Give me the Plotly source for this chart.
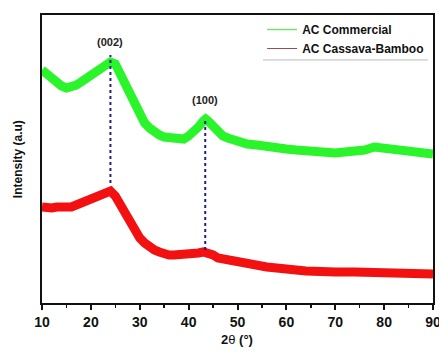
import plotly.graph_objects as go

# 2-theta positions (degrees)
two_theta_green = [10, 11, 12, 13, 14, 15, 16, 17, 18, 19, 20, 21, 22, 23, 24, 25, 26, 27, 28, 29,
                   30, 31, 32, 33, 34, 35, 36, 37, 38, 39, 40, 41, 42, 43, 43.5, 44, 45, 46, 47, 48,
                   49, 50, 52, 54, 56, 58, 60, 62, 64, 66, 68, 70, 72, 74, 76, 78, 80, 82, 84, 86,
                   88, 90]
intensity_green = [233, 229, 224, 220, 217, 215, 216, 218, 221, 224, 228, 231, 235, 238, 241, 239, 229, 216, 205, 196,
                   186, 180, 175, 171, 168, 166, 165, 164, 163, 164, 167, 171, 176, 182, 184, 182, 176, 170, 167, 165,
                   163, 161, 159, 158, 156, 155, 154, 153, 152, 151, 151, 150, 151, 151, 153, 156, 155, 152, 151, 150,
                   150, 149]

two_theta_red = [10, 11, 12, 13, 14, 15, 16, 17, 18, 19, 20, 21, 22, 23, 24, 25, 26, 27, 28, 29,
                 30, 31, 32, 33, 34, 35, 36, 37, 38, 39, 40, 41, 42, 43, 44, 45, 46, 48, 50, 52,
                 54, 56, 58, 60, 62, 64, 66, 70, 74, 78, 82, 86, 90]
intensity_red = [96, 95, 95, 96, 96, 95, 96, 98, 100, 103, 106, 108, 110, 112, 112, 107, 98, 89, 80, 72,
                 65, 60, 56, 53, 51, 49, 48, 48, 48, 48, 48, 49, 50, 51, 50, 48, 45, 43, 40, 39,
                 38, 36, 35, 33, 33, 32, 31, 31, 31, 31, 31, 30, 29]

series_names = ["AC Commercial", "AC Cassava-Bamboo"]

# Peak markers (Miller indices)
peak_pos = [24.0, 43.4]
peak_top = [248, 185]
peak_bottom = [120, 53]
peak_labels = ["(002)", "(100)"]
label_y = [261, 203]

x_ticks = [10, 20, 30, 40, 50, 60, 70, 80, 90]

FONT = "Liberation Sans, Arial, sans-serif"

fig = go.Figure()

fig.add_trace(go.Scatter(x=two_theta_green, y=intensity_green, mode="lines",
                         line=dict(color="#2af52a", width=9), showlegend=False))
fig.add_trace(go.Scatter(x=two_theta_red, y=intensity_red, mode="lines",
                         line=dict(color="#f21010", width=9), showlegend=False))

for p, t, b in zip(peak_pos, peak_top, peak_bottom):
    fig.add_trace(go.Scatter(x=[p, p], y=[b, t], mode="lines",
                             line=dict(color="#20208a", width=2, dash="dot"), showlegend=False))

# legend-only entries
fig.add_trace(go.Scatter(x=[None], y=[None], mode="lines", name=series_names[0],
                         line=dict(color="#77dd77", width=1.5)))
fig.add_trace(go.Scatter(x=[None], y=[None], mode="lines", name=series_names[1],
                         line=dict(color="#9a4b4b", width=1.2)))

for p, ly, lab in zip(peak_pos, label_y, peak_labels):
    fig.add_annotation(x=p, y=ly, text="<b>%s</b>" % lab, showarrow=False,
                       font=dict(family=FONT, size=11, color="#222222"))

fig.add_shape(type="line", xref="paper", yref="paper", x0=0.565, x1=0.987, y0=0.844, y1=0.844,
              line=dict(color="#bbbbbb", width=1))

# axis titles
fig.add_annotation(xref="paper", yref="paper", x=0.499, y=-0.128, xanchor="center", yanchor="middle",
                   text="<b>2</b>θ<b> (°)</b>", showarrow=False,
                   font=dict(family=FONT, size=13, color="#111111"))
fig.add_annotation(xref="paper", yref="paper", x=-0.061, y=0.5, xanchor="center", yanchor="middle",
                   text="<b>Intensity (a.u)</b>", textangle=-90, showarrow=False,
                   font=dict(family=FONT, size=12, color="#111111"))

fig.update_layout(
    width=439, height=352,
    margin=dict(l=42, r=6, t=15, b=49, autoexpand=False),
    paper_bgcolor="white", plot_bgcolor="white",
    font=dict(family=FONT, color="#111111"),
    hovermode=False,
    legend=dict(x=0.563, y=1.0, xanchor="left", yanchor="top",
                bgcolor="rgba(0,0,0,0)", borderwidth=0,
                font=dict(family=FONT, size=12, weight="bold", color="#111111"),
                tracegroupgap=0, itemwidth=30),
    xaxis=dict(range=[10, 90], tickvals=x_ticks, ticks="outside", ticklen=5, tickwidth=2,
               tickcolor="#111111", showline=True, linewidth=2, linecolor="#111111", mirror=True,
               showgrid=False, zeroline=False, automargin=False, ticklabeloverflow="allow",
               tickfont=dict(family=FONT, size=14, weight="bold", color="#111111"),
               minor=dict(dtick=5, tick0=10, ticks="outside", ticklen=3, tickwidth=1.5, tickcolor="#111111")),
    yaxis=dict(range=[0, 288], showticklabels=False, ticks="", showline=True, linewidth=2,
               linecolor="#111111", mirror=True, showgrid=False, zeroline=False, automargin=False),
)

fig.write_html("out.html", config={"displayModeBar": False, "staticPlot": True},
               post_script="document.body.style.margin='0';document.body.style.overflow='hidden';")
